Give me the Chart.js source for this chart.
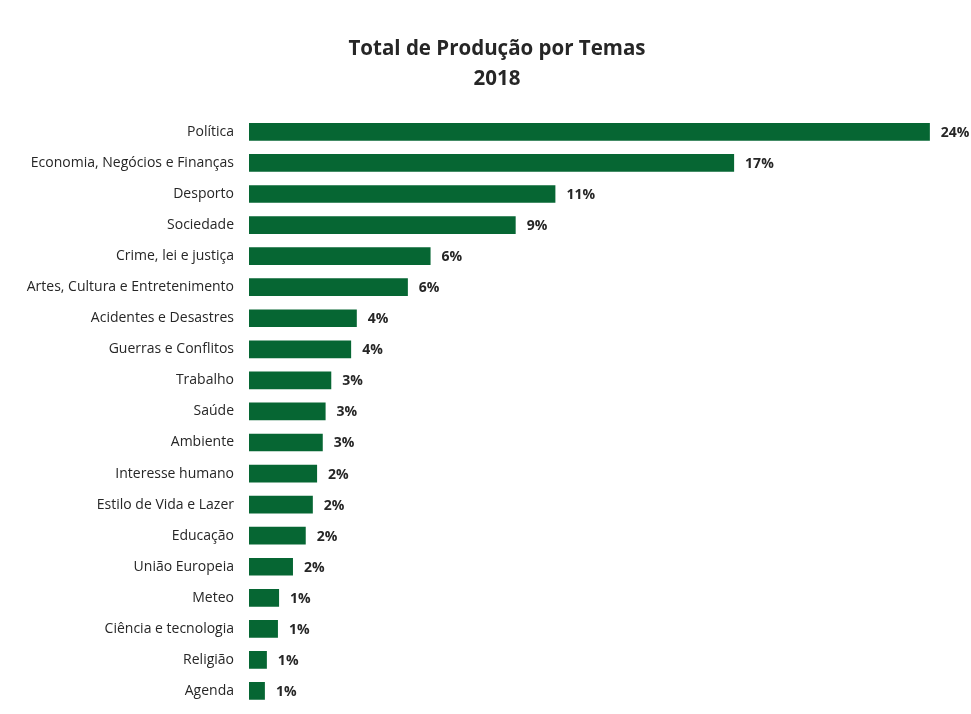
<!DOCTYPE html>
<html>
<head>
<meta charset="utf-8">
<script src="https://cdn.jsdelivr.net/npm/chart.js@4"></script>
<style>
  body { margin: 0; background: #fff; }
  canvas { display: block; }
</style>
</head>
<body>
<canvas id="chart" width="971" height="714"></canvas>
<script>
var temas = [
  "Política", "Economia, Negócios e Finanças", "Desporto", "Sociedade",
  "Crime, lei e justiça", "Artes, Cultura e Entretenimento", "Acidentes e Desastres",
  "Guerras e Conflitos", "Trabalho", "Saúde", "Ambiente", "Interesse humano",
  "Estilo de Vida e Lazer", "Educação", "União Europeia", "Meteo",
  "Ciência e tecnologia", "Religião", "Agenda"
];
var percentagens = [24.0, 17.1, 10.8, 9.4, 6.4, 5.6, 3.8, 3.6, 2.9, 2.7, 2.6, 2.4, 2.25, 2.0, 1.55, 1.06, 1.02, 0.63, 0.56];

var valueLabels = {
  id: 'valueLabels',
  afterDatasetsDraw: function(chart) {
    var ctx = chart.ctx;
    var meta = chart.getDatasetMeta(0);
    ctx.save();
    ctx.font = 'bold 14px "Open Sans"';
    ctx.fillStyle = '#262626';
    ctx.textAlign = 'left';
    ctx.textBaseline = 'middle';
    meta.data.forEach(function(bar, i) {
      ctx.fillText(Math.round(percentagens[i]) + '%', bar.x + 11, bar.y + 1);
    });
    ctx.restore();
  }
};

new Chart(document.getElementById('chart'), {
  type: 'bar',
  data: {
    labels: temas,
    datasets: [{
      data: percentagens,
      backgroundColor: '#066633',
      borderWidth: 0,
      barPercentage: 0.57,
      categoryPercentage: 1
    }]
  },
  options: {
    indexAxis: 'y',
    responsive: false,
    animation: false,
    // negative right padding shifts the title centre to match the original
    layout: { padding: { left: 0, right: -23, top: 1, bottom: 7.5 } },
    plugins: {
      legend: { display: false },
      tooltip: { enabled: false },
      title: {
        display: true,
        text: ['Total de Produção por Temas', '2018'],
        color: '#262626',
        font: { family: 'Open Sans', size: 20.5, weight: 'bold', lineHeight: 1.46 },
        padding: { top: 33, bottom: 22.5 }
      }
    },
    scales: {
      x: {
        display: false,
        min: 0,
        max: 25.45
      },
      y: {
        grid: { display: false, drawTicks: false },
        border: { display: false },
        ticks: {
          padding: 15,
          color: '#262626',
          font: { family: 'Open Sans', size: 14 }
        },
        afterFit: function(scale) {
          scale.width = 249;
          scale.paddingTop = 0;
          scale.paddingBottom = 0;
        }
      }
    }
  },
  plugins: [valueLabels]
});
</script>
</body>
</html>
